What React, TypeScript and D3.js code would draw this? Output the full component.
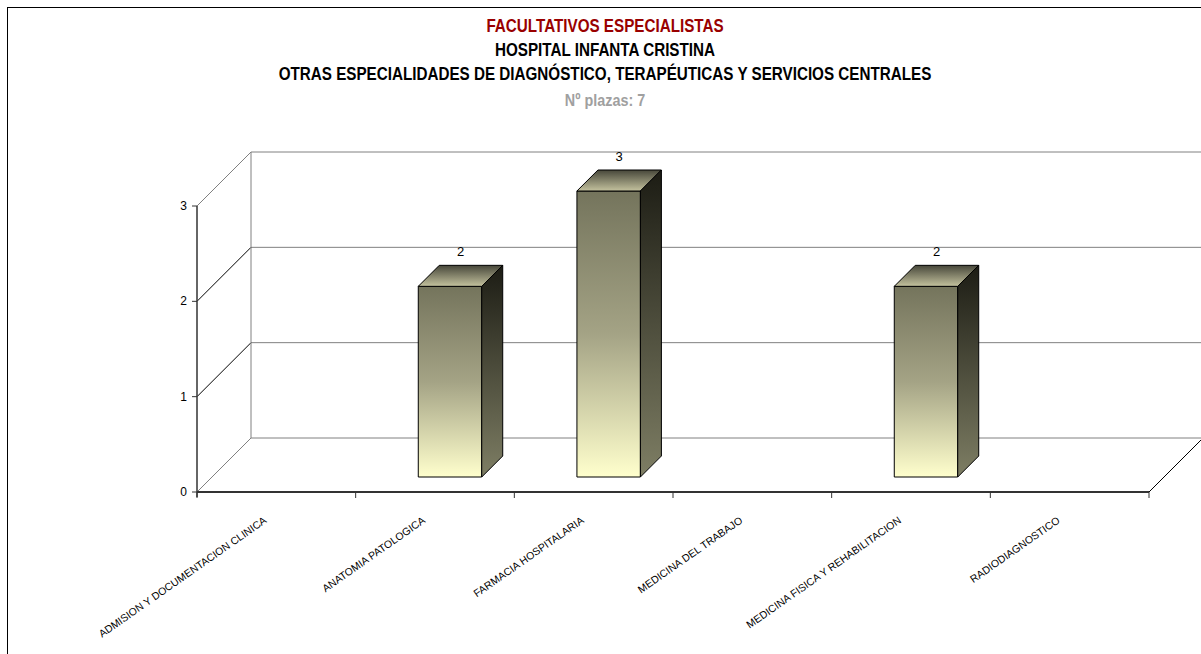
import React from "react";
import * as d3 from "d3";

const categories = [
  "ADMISION Y DOCUMENTACION CLINICA",
  "ANATOMIA PATOLOGICA",
  "FARMACIA HOSPITALARIA",
  "MEDICINA DEL TRABAJO",
  "MEDICINA FISICA Y REHABILITACION",
  "RADIODIAGNOSTICO",
];
const values = [0, 2, 3, 0, 2, 0];
const yTicks = [0, 1, 2, 3];
const titleLines = [
  "FACULTATIVOS ESPECIALISTAS",
  "HOSPITAL INFANTA CRISTINA",
  "OTRAS ESPECIALIDADES DE DIAGNÓSTICO, TERAPÉUTICAS Y SERVICIOS CENTRALES",
];
const subtitle = "Nº plazas: 7";

const W = 1201;
const H = 654;
const x0 = 197;
const x1 = 1149;
const yBase = 492;
const yTop = 206;
const DX = 54;
const DY = 54;
const barFront = 15;
const barDepth = 21;

const sans = "'Liberation Sans', Arial, sans-serif";
const TSX = 0.846;

function Title({ y, text, color, size }: { y: number; text: string; color: string; size: number }) {
  return (
    <text
      transform={`translate(605 ${y}) scale(${TSX} 1)`}
      textAnchor="middle"
      fontFamily={sans}
      fontWeight="bold"
      fontSize={size}
      fill={color}
    >
      {text}
    </text>
  );
}

export default function App() {
  const x = d3.scaleBand<string>().domain(categories).range([x0, x1]).padding(0);
  const y = d3.scaleLinear().domain([0, 3]).range([yBase, yTop]);
  const bw = x.bandwidth() * 0.4;

  return (
    <svg width={W} height={H} style={{ position: "absolute", left: 0, top: 0 }}>
      <defs>
        <linearGradient id="gFront" x1="0" y1="0" x2="0" y2="1">
          <stop offset="0" stopColor="#74745c" />
          <stop offset="0.5" stopColor="#a4a385" />
          <stop offset="1" stopColor="#ffffcd" />
        </linearGradient>
        <linearGradient id="gTop" x1="0" y1="1" x2="0" y2="0">
          <stop offset="0" stopColor="#c4c29e" />
          <stop offset="1" stopColor="#47473a" />
        </linearGradient>
        <linearGradient id="gSide" x1="0" y1="0" x2="0" y2="1">
          <stop offset="0" stopColor="#1c1c14" />
          <stop offset="1" stopColor="#7e7e64" />
        </linearGradient>
      </defs>
      <rect x={0} y={0} width={W} height={H} fill="#fff" />
      <rect x={7.5} y={7.5} width={W + 10} height={H + 10} fill="none" stroke="#000" strokeWidth={1} />

      <Title y={32} text={titleLines[0]} color="#990000" size={18} />
      <Title y={56} text={titleLines[1]} color="#000" size={18} />
      <Title y={80} text={titleLines[2]} color="#000" size={18} />
      <Title y={106} text={subtitle} color="#a0a0a0" size={17} />

      {yTicks.map((t) => (
        <g key={"g" + t}>
          <line x1={x0 + DX} x2={W + 5} y1={y(t) - DY} y2={y(t) - DY} stroke="#808080" strokeWidth={1} />
          <line
            x1={x0}
            y1={y(t)}
            x2={x0 + DX}
            y2={y(t) - DY}
            stroke={t === 0 || t === 3 ? "#808080" : "#000"}
            strokeWidth={1}
          />
        </g>
      ))}
      <line x1={x0 + DX} x2={x0 + DX} y1={y(3) - DY} y2={y(0) - DY} stroke="#808080" />
      <line x1={x1} y1={yBase} x2={x1 + DX} y2={yBase - DY} stroke="#000" />

      <line x1={x0} x2={x0} y1={y(3)} y2={yBase + 5} stroke="#333" strokeWidth={1.5} />
      {yTicks.map((t) => (
        <g key={"yt" + t}>
          <line x1={x0 - 5} x2={x0} y1={y(t)} y2={y(t)} stroke="#333" />
          <text x={187} y={y(t) + 4} textAnchor="end" fontFamily={sans} fontSize={12} fill="#000">
            {t}
          </text>
        </g>
      ))}

      {categories.map((c, i) => {
        const v = values[i];
        if (v <= 0) return null;
        const cx = (x(c) as number) + x.bandwidth() / 2;
        const fl = cx - bw / 2 + barFront;
        const fr = cx + bw / 2 + barFront;
        const fb = yBase - barFront;
        const ft = y(v) - barFront;
        const d = barDepth;
        return (
          <g key={"b" + i} stroke="#000" strokeWidth={1} strokeLinejoin="round">
            <rect x={fl} y={ft} width={fr - fl} height={fb - ft} fill="url(#gFront)" />
            <path d={`M${fl},${ft}L${fl + d},${ft - d}L${fr + d},${ft - d}L${fr},${ft}Z`} fill="url(#gTop)" />
            <path d={`M${fr},${ft}L${fr + d},${ft - d}L${fr + d},${fb - d}L${fr},${fb}Z`} fill="url(#gSide)" />
            <text
              x={cx + barFront + d / 2}
              y={ft - d - 9}
              textAnchor="middle"
              fontFamily={sans}
              fontSize={13}
              fill="#000"
              stroke="none"
            >
              {v}
            </text>
          </g>
        );
      })}

      <line x1={x0} x2={x1} y1={yBase} y2={yBase} stroke="#333" strokeWidth={2} />
      {d3.range(categories.length + 1).map((k) => {
        const xx = x0 + k * x.bandwidth();
        return <line key={"xt" + k} x1={xx} x2={xx} y1={yBase} y2={yBase + 6} stroke="#333" />;
      })}
      {categories.map((c) => {
        const cx = (x(c) as number) + x.bandwidth() / 2;
        const lx = cx - 9;
        const ly = 522;
        return (
          <text
            key={"xl" + c}
            x={lx}
            y={ly}
            transform={`rotate(-35 ${lx} ${ly})`}
            textAnchor="end"
            fontFamily={sans}
            fontSize={10.5}
            fill="#000"
          >
            {c}
          </text>
        );
      })}
    </svg>
  );
}
